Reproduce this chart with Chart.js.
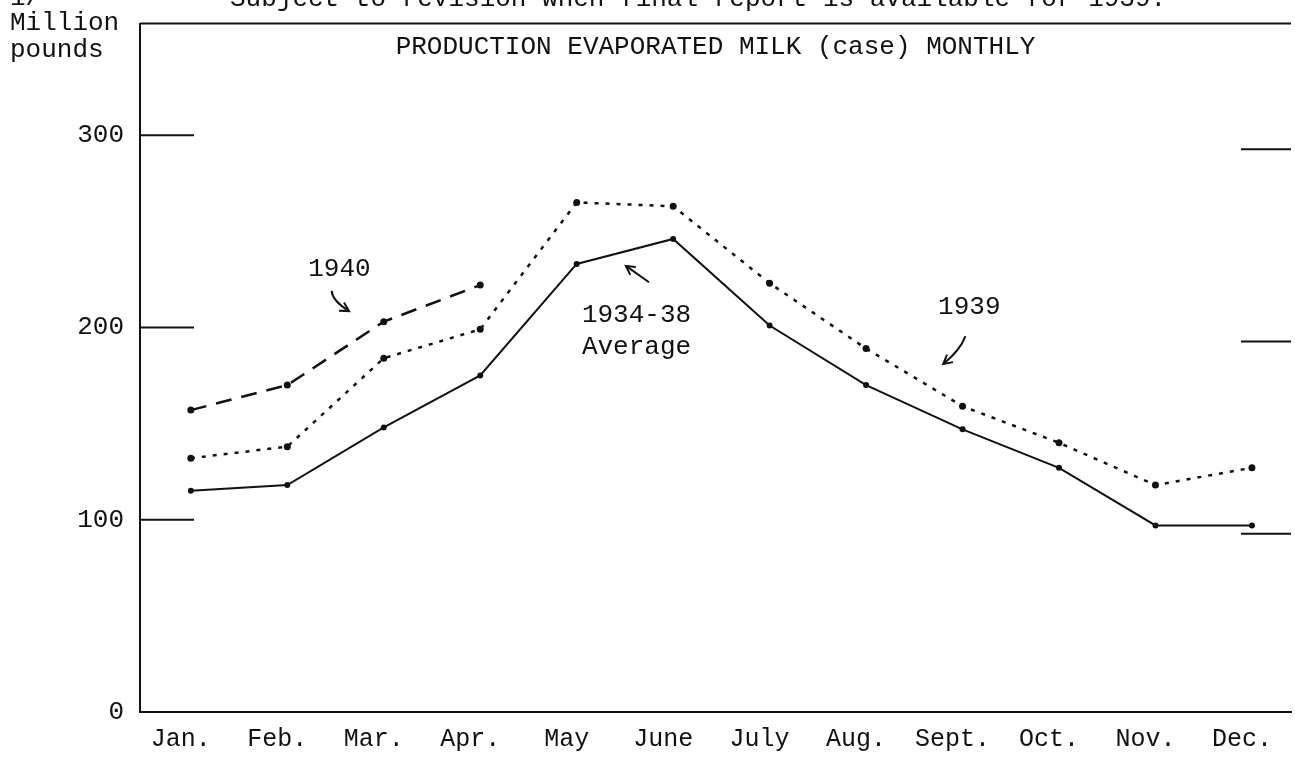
<!DOCTYPE html>
<html lang="en">
<head>
    <meta charset="UTF-8">
    <title>Production evaporated milk (case) monthly</title>
    <style>
        html, body { margin: 0; padding: 0; background: #fff; }
        #chart-container { width: 1295px; height: 760px; }
    </style>
</head>
<body>
    <div id="chart-container">
        <canvas id="myChart" width="1295" height="760"></canvas>
    </div>
    <script src="https://cdn.jsdelivr.net/npm/chart.js"></script>
    <script>
        // data (million pounds)
        const months = ['Jan.', 'Feb.', 'Mar.', 'Apr.', 'May', 'June', 'July', 'Aug.', 'Sept.', 'Oct.', 'Nov.', 'Dec.'];
        const avg1934to38 = [115, 118, 148, 175, 233, 246, 201, 170, 147, 127, 97, 97];
        const prod1939 = [132, 138, 184, 199, 265, 263, 223, 189, 159, 140, 118, 127];
        const prod1940 = [157, 170, 203, 222];
        const yTicks = [0, 100, 200, 300];

        const ink = '#111';
        const typeFont = '"Liberation Mono", "DejaVu Sans Mono", monospace';

        const toPoints = arr => arr.map((v, i) => ({ x: i, y: v }));

        // hand-written labels and arrows, placed in data units (month index, value)
        const notes = [
            { text: '1940', x: 1.54, y: 227 },
            { text: '1934-38', x: 4.62, y: 203 },
            { text: 'Average', x: 4.62, y: 186 },
            { text: '1939', x: 8.07, y: 207 }
        ];
        const arrows = [
            { from: [1.46, 219], to: [1.64, 208.5], bend: -8 },
            { from: [4.75, 223.5], to: [4.51, 232], bend: 0 },
            { from: [8.03, 195.5], to: [7.80, 181], bend: 6 }
        ];

        const paper = {
            id: 'paper',
            afterDraw(chart) {
                const c = chart.ctx;
                const a = chart.chartArea;
                const xs = chart.scales.x;
                const ys = chart.scales.y;
                c.save();
                c.strokeStyle = ink;
                c.fillStyle = ink;

                // top frame line
                c.lineWidth = 2;
                c.beginPath();
                c.moveTo(a.left, a.top);
                c.lineTo(a.right, a.top);
                c.stroke();

                // tick marks inside the frame, left and right
                yTicks.forEach(v => {
                    if (v === 0) return;
                    const py = ys.getPixelForValue(v);
                    c.beginPath();
                    c.moveTo(a.left, py);
                    c.lineTo(a.left + 54, py);
                    c.stroke();
                    c.beginPath();
                    c.moveTo(a.right - 50, py + 14);
                    c.lineTo(a.right, py + 14);
                    c.stroke();
                });

                c.font = '26px ' + typeFont;
                c.textBaseline = 'alphabetic';

                // title inside the frame
                c.textAlign = 'center';
                c.fillText('PRODUCTION EVAPORATED MILK (case) MONTHLY', (a.left + a.right) / 2, a.top + 30);

                // unit label
                c.textAlign = 'left';
                c.fillText('Million', 10, 30);
                c.fillText('pounds', 10, 57);

                // footnote cut off at the top edge
                c.fillText('1/', 10, 5);
                c.fillText('Subject to revision when final report is available for 1939.', 230, 6);

                // annotations
                c.textAlign = 'center';
                notes.forEach(n => {
                    c.fillText(n.text, xs.getPixelForValue(n.x), ys.getPixelForValue(n.y));
                });

                c.lineWidth = 2;
                arrows.forEach(ar => {
                    const x1 = xs.getPixelForValue(ar.from[0]), y1 = ys.getPixelForValue(ar.from[1]);
                    const x2 = xs.getPixelForValue(ar.to[0]), y2 = ys.getPixelForValue(ar.to[1]);
                    const mx = (x1 + x2) / 2 + ar.bend, my = (y1 + y2) / 2;
                    c.beginPath();
                    c.moveTo(x1, y1);
                    c.quadraticCurveTo(mx, my, x2, y2);
                    c.stroke();
                    const ang = Math.atan2(y2 - my, x2 - mx);
                    const h = 10;
                    c.beginPath();
                    c.moveTo(x2 - h * Math.cos(ang - 0.5), y2 - h * Math.sin(ang - 0.5));
                    c.lineTo(x2, y2);
                    c.lineTo(x2 - h * Math.cos(ang + 0.5), y2 - h * Math.sin(ang + 0.5));
                    c.stroke();
                });
                c.restore();
            }
        };

        const ctx = document.getElementById('myChart').getContext('2d');
        new Chart(ctx, {
            type: 'line',
            data: {
                datasets: [
                    {
                        label: '1934-38 Average',
                        data: toPoints(avg1934to38),
                        borderColor: ink,
                        borderWidth: 2,
                        pointRadius: 3,
                        pointBackgroundColor: ink,
                        pointBorderWidth: 0,
                        tension: 0
                    },
                    {
                        label: '1939',
                        data: toPoints(prod1939),
                        borderColor: ink,
                        borderWidth: 2.5,
                        borderDash: [4, 7],
                        pointRadius: 3.5,
                        pointBackgroundColor: ink,
                        pointBorderWidth: 0,
                        tension: 0
                    },
                    {
                        label: '1940',
                        data: toPoints(prod1940),
                        borderColor: ink,
                        borderWidth: 2.5,
                        borderDash: [16, 10],
                        pointRadius: 3.5,
                        pointBackgroundColor: ink,
                        pointBorderWidth: 0,
                        tension: 0
                    }
                ]
            },
            options: {
                responsive: false,
                animation: false,
                devicePixelRatio: 1,
                layout: { padding: { top: 20, right: -4, left: 0, bottom: 0 } },
                plugins: {
                    legend: { display: false },
                    title: { display: false },
                    tooltip: { enabled: false }
                },
                scales: {
                    x: {
                        type: 'linear',
                        min: -0.527,
                        max: 11.405,
                        afterBuildTicks: s => { s.ticks = months.map((m, i) => ({ value: i })); },
                        afterFit: s => { s.height = 48; },
                        grid: { display: false },
                        border: { display: true, color: ink, width: 2 },
                        ticks: {
                            autoSkip: false,
                            maxRotation: 0,
                            padding: 4,
                            labelOffset: -10,
                            color: ink,
                            font: { family: typeFont, size: 25 },
                            callback: v => months[v]
                        }
                    },
                    y: {
                        min: 0,
                        max: 358,
                        afterBuildTicks: s => { s.ticks = yTicks.map(v => ({ value: v })); },
                        afterFit: s => { s.width = 140; },
                        grid: { display: false },
                        border: { display: true, color: ink, width: 2 },
                        ticks: {
                            padding: 8,
                            color: ink,
                            font: { family: typeFont, size: 26 }
                        }
                    }
                }
            },
            plugins: [paper]
        });
    </script>
</body>
</html>
